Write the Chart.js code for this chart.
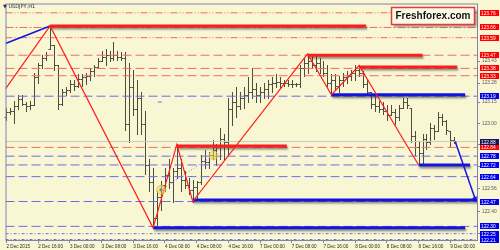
<!DOCTYPE html>
<html>
<head>
<meta charset="utf-8">
<script src="https://cdn.jsdelivr.net/npm/chart.js@4"></script>
<style>
  html, body { margin: 0; padding: 0; background: #f9f7d3; }
  #wrap { width: 500px; height: 250px; }
</style>
</head>
<body>
<div id="wrap"><canvas id="chart" width="500" height="250"></canvas></div>
<script>
'use strict';

// ── USDJPY H1 bars (2 Dec 08:00 .. 9 Dec 01:00) ───────────────
const barHigh  = [123.11,123.11,123.16,123.20,123.20,123.15,123.16,123.35,123.42,123.47,
                  123.49,123.67,123.54,123.40,123.24,123.25,123.30,123.30,123.34,123.34,
                  123.35,123.38,123.40,123.45,123.50,123.51,123.50,123.56,123.50,123.49,
                  123.49,123.42,123.37,123.30,123.22,123.09,122.76,122.70,122.54,122.61,
                  122.70,122.76,122.70,122.86,122.76,122.68,122.63,122.62,122.61,122.79,
                  122.82,122.81,122.89,122.86,122.97,122.93,123.18,123.22,123.25,123.22,
                  123.25,123.32,123.38,123.28,123.25,123.28,123.30,123.32,123.34,123.32,
                  123.30,123.30,123.30,123.28,123.40,123.45,123.48,123.47,123.47,123.45,
                  123.43,123.40,123.34,123.34,123.33,123.35,123.36,123.37,123.40,123.40,
                  123.36,123.30,123.22,123.20,123.16,123.15,123.13,123.13,123.10,123.13,
                  123.18,123.18,123.11,122.95,122.88,122.93,122.93,123.01,122.99,123.08,
                  123.07,123.03,122.95,122.91];
const barLow   = [123.03,123.07,123.01,123.10,123.13,123.09,123.10,123.13,123.28,123.38,
                  123.44,123.51,123.37,123.10,123.13,123.20,123.22,123.23,123.25,123.26,
                  123.27,123.30,123.33,123.38,123.43,123.40,123.43,123.44,123.44,123.44,
                  122.96,122.88,123.06,122.93,122.93,122.66,122.54,122.29,122.31,122.41,
                  122.54,122.56,122.47,122.63,122.54,122.56,122.52,122.47,122.49,122.59,
                  122.70,122.70,122.76,122.72,122.76,122.76,122.79,122.99,123.05,123.10,
                  123.11,123.15,123.18,123.15,123.15,123.18,123.18,123.22,123.25,123.25,
                  123.26,123.26,123.25,123.26,123.25,123.33,123.35,123.38,123.36,123.35,
                  123.33,123.26,123.20,123.24,123.22,123.26,123.28,123.30,123.30,123.33,
                  123.25,123.20,123.11,123.09,123.08,123.07,123.03,123.06,123.00,123.03,
                  123.11,123.11,122.88,122.79,122.72,122.73,122.83,122.86,122.90,122.95,
                  122.99,122.93,122.85,122.87];
const barClose = [123.08,123.09,123.12,123.17,123.14,123.12,123.13,123.32,123.40,123.45,
                  123.47,123.54,123.40,123.14,123.22,123.23,123.27,123.26,123.31,123.32,
                  123.33,123.36,123.39,123.43,123.46,123.47,123.45,123.47,123.46,123.45,
                  123.00,123.25,123.10,123.18,123.00,122.72,122.60,122.36,122.50,122.58,
                  122.65,122.60,122.68,122.70,122.62,122.58,122.55,122.57,122.60,122.75,
                  122.74,122.79,122.82,122.84,122.90,122.88,123.10,123.15,123.12,123.18,
                  123.20,123.22,123.24,123.20,123.22,123.24,123.27,123.28,123.29,123.28,
                  123.28,123.27,123.27,123.27,123.38,123.42,123.43,123.40,123.42,123.38,
                  123.35,123.28,123.30,123.26,123.30,123.32,123.33,123.35,123.37,123.35,
                  123.27,123.22,123.14,123.12,123.10,123.09,123.06,123.08,123.05,123.11,
                  123.15,123.13,122.92,122.84,122.80,122.90,122.88,122.97,122.95,123.05,
                  123.02,122.96,122.89,122.88];
const firstOpen = 123.05;

// ── Axes ──────────────────────────────────────────────────────
const tickIdx    = [0, 8, 16, 24, 32, 40, 48, 56, 64, 72, 80, 88, 96, 104, 112];
const tickLabels = ['2 Dec 2015', '2 Dec 16:00', '3 Dec 00:00', '3 Dec 08:00', '3 Dec 16:00',
                    '4 Dec 00:00', '4 Dec 08:00', '4 Dec 16:00', '7 Dec 00:00', '7 Dec 08:00',
                    '7 Dec 16:00', '8 Dec 00:00', '8 Dec 08:00', '8 Dec 16:00', '9 Dec 00:00'];
const priceTicks = [123.43, 123.28, 123.15, 123.00, 122.86, 122.71, 122.56, 122.40, 122.25];

// ── Drawn objects ─────────────────────────────────────────────
const zigX   = [-0.25, 11, 37, 43, 47, 76, 82, 89, 104];
const zigY   = [123.24, 123.67, 122.29, 122.86, 122.47, 123.48, 123.20, 123.40, 122.72];
const trendX = [-0.25, 11];
const trendY = [123.55, 123.67];
const arrowX = [113.25, 118.25];
const arrowY = [122.88, 122.49];

const resStart = [11, 43, 76, 89];
const resEnd   = [90.75, 70.75, 105, 113.75];
const resPrice = [123.67, 122.85, 123.47, 123.39];
const supStart = [82, 37, 47, 104];
const supEnd   = [115.75, 115.75, 119, 117];
const supPrice = [123.20, 122.29, 122.48, 122.72];

const redLevels  = [123.76, 123.66, 123.59, 123.47, 123.38, 123.33, 122.84];
const blueLevels = [123.19, 122.78, 122.72, 122.64, 122.47, 122.30, 122.25, 122.21];
const bidPrice   = 122.88;

const markX = [39, 52.25];
const markY = [122.55, 122.785];

// ── Styles ────────────────────────────────────────────────────
const BG       = '#f9f7d3';
const AXIS     = '#8181b8';
const RED      = '#ff1c1c';
const BLUE     = '#1414e0';
const RED_LVL  = '#f06a6a';
const BLUE_LVL = '#6c6ce8';
const DASH     = [9, 4];
const DASH_DOT = [8, 2, 2, 2];
const DASH_DD  = [7, 2, 1, 2, 1, 2];
const DOTTED   = [3, 2, 1, 2];
const redDash  = [DASH_DD, DASH_DOT, DASH_DD, DASH, DASH, DASH, DASH];
const blueDash = [DASH, DASH, DASH, DASH, DASH, DASH, DOTTED, DOTTED];
const X_MIN = -0.25, X_MAX = 119;

const pts = (xs, ys) => xs.map((v, i) => ({ x: v, y: ys[i] }));

function levelSet(v, color, dash) {
  return { data: [{ x: X_MIN, y: v }, { x: X_MAX, y: v }], borderColor: color,
           borderWidth: 1, borderDash: dash, pointRadius: 0 };
}
function segSet(x1, x2, v, color) {
  return { data: [{ x: x1, y: v }, { x: x2, y: v }], borderColor: color,
           borderWidth: 3, pointRadius: 0, shadow: true, borderCapStyle: 'butt' };
}

// ── Plugins ───────────────────────────────────────────────────
const backdrop = {
  id: 'backdrop',
  beforeDraw(chart) {
    const { ctx, width, height } = chart;
    ctx.save();
    ctx.fillStyle = BG;
    ctx.fillRect(0, 0, width, height);
    ctx.restore();
  },
};

const ohlcBars = {
  id: 'ohlcBars',
  beforeDatasetsDraw(chart) {
    const { ctx, scales: { x, y } } = chart;
    ctx.save();
    ctx.strokeStyle = '#4d4d3e';
    ctx.lineWidth = 1;
    ctx.beginPath();
    barHigh.forEach((h, i) => {
      const lo = barLow[i];
      let open = i ? barClose[i - 1] : firstOpen;
      open = Math.min(h, Math.max(lo, open));
      const px = Math.round(x.getPixelForValue(i)) + 0.5;
      ctx.moveTo(px, Math.round(y.getPixelForValue(h)));
      ctx.lineTo(px, Math.round(y.getPixelForValue(lo)) + 1);
      const yo = Math.round(y.getPixelForValue(open)) + 0.5;
      const yc = Math.round(y.getPixelForValue(barClose[i])) + 0.5;
      ctx.moveTo(px - 2, yo); ctx.lineTo(px, yo);
      ctx.moveTo(px, yc);     ctx.lineTo(px + 2, yc);
    });
    ctx.stroke();
    ctx.restore();
  },
};

const shadows = {
  id: 'shadows',
  beforeDatasetDraw(chart, args) {
    if (!chart.data.datasets[args.index].shadow) return;
    const ctx = chart.ctx;
    ctx.save();
    ctx.shadowColor = 'rgba(50,50,50,0.55)';
    ctx.shadowOffsetX = 1;
    ctx.shadowOffsetY = 2;
    ctx.shadowBlur = 2;
  },
  afterDatasetDraw(chart, args) {
    if (chart.data.datasets[args.index].shadow) chart.ctx.restore();
  },
};

function priceTag(ctx, y, v, fill) {
  const py = Math.round(y.getPixelForValue(v));
  ctx.fillStyle = fill;
  ctx.fillRect(480, py - 3, 19, 6);
  ctx.fillStyle = '#ffffff';
  ctx.fillText(v.toFixed(2), 481, py + 0.5);
}

const overlay = {
  id: 'overlay',
  afterDraw(chart) {
    const { ctx, chartArea: a, scales: { y } } = chart;
    ctx.save();
    // frame
    ctx.strokeStyle = AXIS;
    ctx.lineWidth = 1;
    ctx.strokeRect(a.left + 0.5, a.top - 1.5, a.right - a.left - 1, a.bottom - a.top + 1);

    // price tags
    ctx.font = '4.8px "Liberation Sans", Arial, sans-serif';
    ctx.textBaseline = 'middle';
    ctx.textAlign = 'left';
    redLevels.forEach(v => priceTag(ctx, y, v, '#ff0000'));
    blueLevels.forEach(v => priceTag(ctx, y, v, '#0000f0'));
    priceTag(ctx, y, bidPrice, '#14145a');

    // symbol title
    ctx.fillStyle = '#2b2b3b';
    ctx.font = '5px "DejaVu Sans", sans-serif';
    ctx.fillText('▼ USDJPY,H1', 3, 7);

    // brand box
    ctx.shadowColor = 'rgba(60,60,60,0.45)';
    ctx.shadowOffsetX = 2;
    ctx.shadowOffsetY = 2;
    ctx.shadowBlur = 2;
    ctx.fillStyle = '#fdfbe8';
    ctx.fillRect(391.5, 7.5, 83, 17);
    ctx.shadowColor = 'transparent';
    ctx.strokeStyle = '#e63a3a';
    ctx.lineWidth = 1.5;
    ctx.strokeRect(391.5, 7.5, 83, 17);
    ctx.fillStyle = '#111111';
    ctx.font = 'bold 10px "Liberation Sans", Arial, sans-serif';
    ctx.textAlign = 'center';
    ctx.fillText('Freshforex.com', 433, 16.5);
    ctx.restore();
  },
};

// ── Datasets (index 0 is drawn on top) ────────────────────────
const datasets = [
  { data: pts(markX, markY), showLine: false, pointRadius: 4.5,
    backgroundColor: 'rgba(236,214,70,0.55)', borderColor: 'rgba(214,192,60,0.6)', borderWidth: 1 },
  { data: [{ x: markX[0], y: markY[0] }], pointRadius: 1.6, backgroundColor: '#1010d0', borderWidth: 0 },
  { data: [{ x: 38.7, y: 123.15 }], pointStyle: 'line', pointRadius: 2, borderColor: BLUE_LVL, borderWidth: 1 },
  { data: pts(markX, markY), borderColor: '#7a7ae0', borderWidth: 1, borderDash: [1, 2], pointRadius: 0 },
  { data: pts(zigX, zigY), borderColor: RED, borderWidth: 1.2, pointRadius: 0 },
  { data: pts(trendX, trendY), borderColor: BLUE, borderWidth: 1.5, pointRadius: 0 },
  { data: pts(arrowX, arrowY), borderColor: BLUE, borderWidth: 1.5,
    pointRadius: [0, 3], pointStyle: 'triangle', pointRotation: 162,
    backgroundColor: BLUE, pointBorderWidth: 0 },
  ...resPrice.map((v, i) => segSet(resStart[i], resEnd[i], v, RED)),
  ...supPrice.map((v, i) => segSet(supStart[i], supEnd[i], v, BLUE)),
  levelSet(bidPrice, '#c9c9c0', []),
  ...redLevels.map((v, i) => levelSet(v, RED_LVL, redDash[i])),
  ...blueLevels.map((v, i) => levelSet(v, BLUE_LVL, blueDash[i])),
];

new Chart(document.getElementById('chart'), {
  type: 'line',
  data: { datasets },
  plugins: [backdrop, ohlcBars, shadows, overlay],
  options: {
    responsive: false,
    animation: false,
    devicePixelRatio: 1,
    layout: { padding: { left: 1, top: 2, right: 0, bottom: 0 } },
    plugins: { legend: { display: false }, tooltip: { enabled: false } },
    elements: { line: { tension: 0, fill: false } },
    scales: {
      x: {
        type: 'linear', position: 'bottom', min: X_MIN, max: X_MAX,
        afterBuildTicks: s => { s.ticks = tickIdx.map(v => ({ value: v })); },
        afterFit: s => { s.height = 9; },
        ticks: {
          callback: (v, i) => tickLabels[i],
          autoSkip: false, maxRotation: 0, align: 'start', padding: 1,
          color: '#2a2a2a', font: { size: 4.6, family: '"Liberation Sans", Arial, sans-serif' },
        },
        grid: { drawOnChartArea: false, tickLength: 2, color: AXIS },
        border: { display: false },
      },
      y: {
        position: 'right', min: 122.20, max: 123.81,
        afterBuildTicks: s => { s.ticks = priceTicks.map(v => ({ value: v })); },
        afterFit: s => { s.width = 22; },
        ticks: {
          callback: v => v.toFixed(2), padding: 2,
          color: '#555566', font: { size: 4.8, family: '"Liberation Sans", Arial, sans-serif' },
        },
        grid: { drawOnChartArea: false, tickLength: 2, color: AXIS },
        border: { display: false },
      },
    },
  },
});
</script>
</body>
</html>
